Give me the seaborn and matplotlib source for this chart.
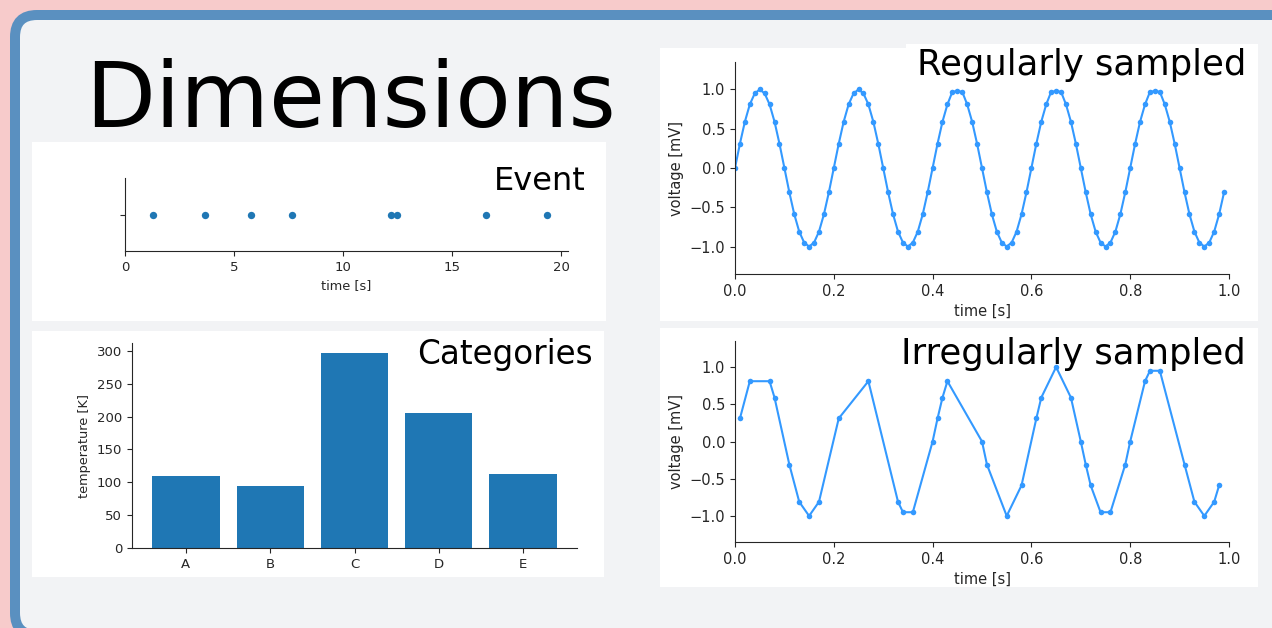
import matplotlib
matplotlib.use("Agg")
import matplotlib.pyplot as plt
from matplotlib.patches import FancyBboxPatch, Rectangle
import seaborn as sns

sns.set_style("ticks")
plt.rcParams['font.family'] = ['DejaVu Sans']

# event times [s]
event_times = [1.27, 3.68, 5.76, 7.66, 12.2, 12.46, 16.56, 19.34]
event_row = [0, 0, 0, 0, 0, 0, 0, 0]

# categories
categories = ['A', 'B', 'C', 'D', 'E']
temperatures = [110, 94, 297, 205, 112]

# regularly sampled signal
reg_time = [
    0.00, 0.01, 0.02, 0.03, 0.04, 0.05, 0.06, 0.07, 0.08, 0.09,
    0.10, 0.11, 0.12, 0.13, 0.14, 0.15, 0.16, 0.17, 0.18, 0.19,
    0.20, 0.21, 0.22, 0.23, 0.24, 0.25, 0.26, 0.27, 0.28, 0.29,
    0.30, 0.31, 0.32, 0.33, 0.34, 0.35, 0.36, 0.37, 0.38, 0.39,
    0.40, 0.41, 0.42, 0.43, 0.44, 0.45, 0.46, 0.47, 0.48, 0.49,
    0.50, 0.51, 0.52, 0.53, 0.54, 0.55, 0.56, 0.57, 0.58, 0.59,
    0.60, 0.61, 0.62, 0.63, 0.64, 0.65, 0.66, 0.67, 0.68, 0.69,
    0.70, 0.71, 0.72, 0.73, 0.74, 0.75, 0.76, 0.77, 0.78, 0.79,
    0.80, 0.81, 0.82, 0.83, 0.84, 0.85, 0.86, 0.87, 0.88, 0.89,
    0.90, 0.91, 0.92, 0.93, 0.94, 0.95, 0.96, 0.97, 0.98, 0.99,
]
reg_voltage = [
    0.00, 0.31, 0.59, 0.81, 0.95, 1.00, 0.95, 0.81, 0.59, 0.31,
    0.00, -0.31, -0.59, -0.81, -0.95, -1.00, -0.95, -0.81, -0.59, -0.31,
    0.00, 0.31, 0.59, 0.81, 0.95, 1.00, 0.95, 0.81, 0.59, 0.31,
    0.00, -0.31, -0.59, -0.81, -0.95, -1.00, -0.95, -0.81, -0.59, -0.31,
    0.00, 0.31, 0.59, 0.81, 0.97, 0.98, 0.97, 0.81, 0.59, 0.31,
    0.00, -0.31, -0.59, -0.81, -0.95, -1.00, -0.95, -0.81, -0.59, -0.31,
    0.00, 0.31, 0.59, 0.81, 0.97, 0.98, 0.97, 0.81, 0.59, 0.31,
    0.00, -0.31, -0.59, -0.81, -0.95, -1.00, -0.95, -0.81, -0.59, -0.31,
    0.00, 0.31, 0.59, 0.81, 0.97, 0.98, 0.97, 0.81, 0.59, 0.31,
    0.00, -0.31, -0.59, -0.81, -0.95, -1.00, -0.95, -0.81, -0.59, -0.31,
]

# irregularly sampled signal
irr_time = [0.01, 0.03, 0.07, 0.08, 0.11, 0.13, 0.15, 0.17, 0.21, 0.27,
            0.33, 0.34, 0.36, 0.40, 0.41, 0.42, 0.43, 0.50, 0.51, 0.55,
            0.58, 0.61, 0.62, 0.65, 0.68, 0.70, 0.71, 0.72, 0.74, 0.76,
            0.79, 0.80, 0.83, 0.84, 0.86, 0.91, 0.93, 0.95, 0.97, 0.98]
irr_voltage = [0.31, 0.81, 0.81, 0.59, -0.31, -0.81, -1.00, -0.81, 0.31, 0.81,
               -0.81, -0.95, -0.95, 0.00, 0.31, 0.59, 0.81, 0.00, -0.31, -1.00,
               -0.59, 0.31, 0.59, 1.00, 0.59, 0.00, -0.31, -0.59, -0.95, -0.95,
               -0.31, 0.00, 0.81, 0.95, 0.95, -0.31, -0.81, -1.00, -0.81, -0.59]

W, H = 1272, 628
BLUE = '#1f77b4'
LINE = '#3399ff'

fig = plt.figure(figsize=(W / 100, H / 100), dpi=100)
fig.patch.set_facecolor('#f7cbcb')

# background layer in pixel coordinates
bg = fig.add_axes([0, 0, 1, 1])
bg.set_xlim(0, W)
bg.set_ylim(H, 0)
bg.axis('off')
bg.add_patch(FancyBboxPatch((15, 15), 1300, 620, boxstyle="round,pad=0,rounding_size=22",
                            fc='#f2f3f5', ec='#5a90c0', lw=7.2))
# white panels
for x0, y0, x1, y1 in [(32, 142, 606, 321), (32, 331, 604, 577),
                       (660, 48, 1258, 321), (660, 328, 1258, 587)]:
    bg.add_patch(Rectangle((x0, y0), x1 - x0, y1 - y0, fc='white', ec='none'))
bg.add_patch(Rectangle((906, 44), 352, 8, fc='white', ec='none'))


def px_axes(left, top, right, bottom):
    return fig.add_axes([left / W, 1 - bottom / H, (right - left) / W, (bottom - top) / H])


def label(x, y, s, size):
    fig.text(x / W, 1 - y / H, s, ha='right', va='baseline', fontsize=size, color='black')


fig.text(85 / W, 1 - 127 / H, 'Dimensions', fontsize=65.5, va='baseline', color='black')

# Event
ax = px_axes(125, 178, 568, 251)
ax.patch.set_alpha(0)
sns.scatterplot(x=event_times, y=event_row, color=BLUE, s=28, linewidth=0, ax=ax)
ax.set_xlim(0, 20.3)
ax.set_ylim(-1, 1)
ax.set_xticks([0, 5, 10, 15, 20])
ax.set_yticks([0])
ax.set_yticklabels([''])
ax.set_xlabel('time [s]', fontsize=9.3)
ax.tick_params(labelsize=9.5)
sns.despine(ax=ax)
label(586, 190, 'Event', 23)

# Categories
ax = px_axes(132, 343, 577, 548)
ax.patch.set_alpha(0)
sns.barplot(x=categories, y=temperatures, color=BLUE, saturation=1, width=0.8, linewidth=0, ax=ax)
ax.set_xlim(-0.64, 4.64)
ax.set_ylim(0, 312)
ax.set_yticks([0, 50, 100, 150, 200, 250, 300])
ax.set_ylabel('temperature [K]', fontsize=9.3)
ax.tick_params(labelsize=9.5)
sns.despine(ax=ax)
label(593, 364, 'Categories', 23.5)

# Regularly sampled
ax = px_axes(735, 62, 1229, 274)
ax.patch.set_alpha(0)
sns.lineplot(x=reg_time, y=reg_voltage, color=LINE, marker='o', markersize=4,
             markeredgewidth=0, linewidth=1.5, ax=ax)
ax.set_xlim(0, 1)
ax.set_ylim(-1.35, 1.35)
ax.set_yticks([-1.0, -0.5, 0.0, 0.5, 1.0])
ax.set_xlabel('time [s]', fontsize=10.5)
ax.set_ylabel('voltage [mV]', fontsize=10.5)
ax.tick_params(labelsize=10.5)
sns.despine(ax=ax)
label(1246, 75, 'Regularly sampled', 25.5)

# Irregularly sampled
ax = px_axes(735, 341, 1229, 542)
ax.patch.set_alpha(0)
sns.lineplot(x=irr_time, y=irr_voltage, color=LINE, marker='o', markersize=4,
             markeredgewidth=0, linewidth=1.5, ax=ax)
ax.set_xlim(0, 1)
ax.set_ylim(-1.35, 1.35)
ax.set_yticks([-1.0, -0.5, 0.0, 0.5, 1.0])
ax.set_xlabel('time [s]', fontsize=10.5)
ax.set_ylabel('voltage [mV]', fontsize=10.5)
ax.tick_params(labelsize=10.5)
sns.despine(ax=ax)
label(1246, 364, 'Irregularly sampled', 25.5)

fig.savefig('out.png', dpi=100, facecolor=fig.get_facecolor())
